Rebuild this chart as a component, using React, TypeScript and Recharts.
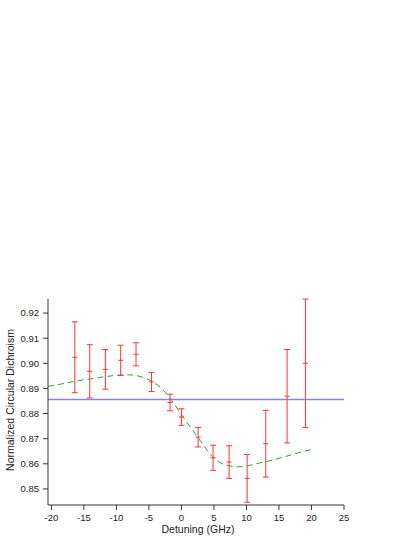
import {
  ComposedChart,
  Line,
  Scatter,
  ErrorBar,
  XAxis,
  YAxis,
  ReferenceLine,
} from "recharts";

// measured points: detuning (GHz), normalized CD, error
const detuning = [-16.4, -14.1, -11.7, -9.34, -6.98, -4.6, -1.75, 0, 2.56, 4.86, 7.33, 10.1, 12.97, 16.25, 19.07];
const cdValues = [0.9024, 0.8968, 0.8976, 0.9012, 0.9036, 0.8926, 0.8844, 0.8786, 0.8706, 0.8624, 0.8607, 0.8542, 0.868, 0.8869, 0.9];
const cdErrors = [0.0141, 0.0106, 0.0079, 0.006, 0.0046, 0.0038, 0.0033, 0.0033, 0.0039, 0.005, 0.0065, 0.0095, 0.0133, 0.0186, 0.0256];

// fitted curve (green dashed)
const fitX = [-20.5, -18, -16, -14, -12, -10, -8, -6, -4.5, -3, -1.5, 0, 1.5, 3, 4.5, 6, 7.5, 9, 10.5, 12, 14, 16, 18, 20];
const fitY = [0.8908, 0.892, 0.893, 0.8938, 0.8946, 0.8952, 0.8954, 0.8945, 0.8928, 0.8898, 0.8852, 0.8796, 0.8742, 0.8688, 0.8636, 0.8604, 0.8591, 0.8588, 0.8594, 0.8603, 0.8615, 0.8629, 0.8644, 0.8657];

// constant reference level
const baseline = 0.8856;

const xTicks = [-20, -15, -10, -5, 0, 5, 10, 15, 20, 25];
const yTicks = [0.85, 0.86, 0.87, 0.88, 0.89, 0.9, 0.91, 0.92];

const points = detuning.map((x, i) => ({ x, cd: cdValues[i], err: cdErrors[i] }));
const fit = fitX.map((x, i) => ({ x, fit: fitY[i] }));

const RED = "#ff3333";
const AXIS = "#333";
const FONT = "'Liberation Sans', Arial, sans-serif";

const CenterMark = (props: any) => {
  const { cx, cy } = props;
  if (cx == null || cy == null) return null;
  return <line x1={cx - 2.5} x2={cx + 2.5} y1={cy} y2={cy} stroke={RED} strokeWidth={1} />;
};

const YLabel = (props: any) => {
  const vb = props.viewBox || {};
  const cx = 10;
  const cy = vb.y + vb.height / 2 - 2;
  return (
    <text
      x={cx}
      y={cy}
      transform={`rotate(-90 ${cx} ${cy})`}
      textAnchor="middle"
      dominantBaseline="central"
      fontSize={10.5}
      fill="#222"
      fontFamily={FONT}
    >
      Normalized Circular Dichroism
    </text>
  );
};

const XLabel = (props: any) => {
  const vb = props.viewBox || {};
  return (
    <text
      x={vb.x + vb.width / 2 + 2}
      y={533}
      textAnchor="middle"
      fontSize={10.5}
      fill="#222"
      fontFamily={FONT}
    >
      Detuning (GHz)
    </text>
  );
};

export default function App() {
  return (
    <div style={{ position: "absolute", left: 0, top: 0, fontFamily: FONT }}>
      <ComposedChart
        width={415}
        height={537}
        margin={{ top: 299, right: 71, bottom: 0, left: 0 }}
      >
        <XAxis
          dataKey="x"
          type="number"
          domain={[-20.52, 25]}
          ticks={xTicks}
          allowDataOverflow
          height={32}
          stroke={AXIS}
          tickSize={5}
          tickMargin={4}
          tick={{ fontSize: 9.5, fill: "#222", fontFamily: FONT }}
          label={<XLabel />}
        />
        <YAxis
          type="number"
          domain={[0.8436, 0.9256]}
          ticks={yTicks}
          allowDataOverflow
          width={48}
          stroke={AXIS}
          tickSize={5}
          tickMargin={4}
          tickFormatter={(v: number) => v.toFixed(2)}
          tick={{ fontSize: 9.5, fill: "#222", fontFamily: FONT }}
          label={<YLabel />}
        />
        <ReferenceLine y={baseline} stroke="#8585e8" strokeWidth={1.5} />
        <Line
          data={fit}
          dataKey="fit"
          type="monotone"
          stroke="#2ca02c"
          strokeWidth={1}
          strokeDasharray="6 4"
          dot={false}
          activeDot={false}
          isAnimationActive={false}
        />
        <Scatter
          data={points}
          dataKey="cd"
          shape={<CenterMark />}
          isAnimationActive={false}
        >
          <ErrorBar dataKey="err" direction="y" width={3} stroke={RED} strokeWidth={1} />
        </Scatter>
      </ComposedChart>
    </div>
  );
}
